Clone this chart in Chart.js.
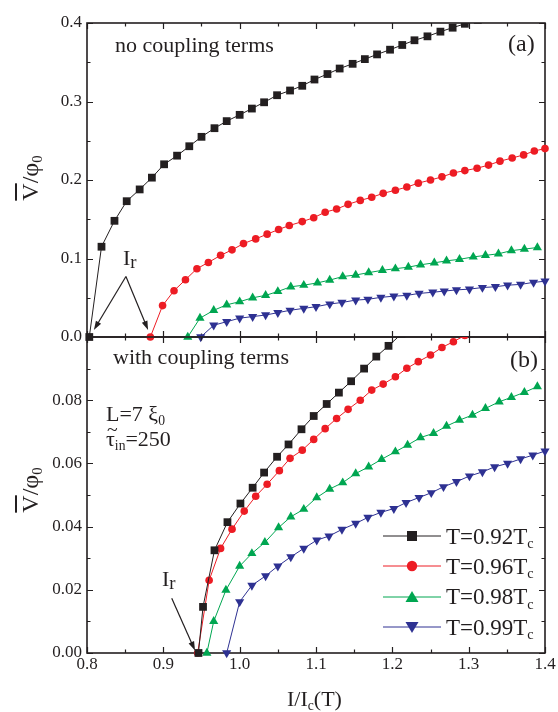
<!DOCTYPE html>
<html>
<head>
<meta charset="utf-8">
<script src="https://cdn.jsdelivr.net/npm/chart.js@4.4.0/dist/chart.umd.min.js"></script>
<style>
body { margin: 0; background: #fff; }
#wrap { position: relative; width: 558px; height: 712px; overflow: hidden; font-family: "Liberation Serif", "Times New Roman", serif; color: #231f20; }
#wrap canvas { position: absolute; left: 0; top: 0; }
.t { position: absolute; white-space: nowrap; line-height: 1; }
.sub { position: relative; top: 0.3em; font-size: 0.62em; line-height: 0; }
.tl { position: relative; display: inline-block; }
.tl .tilde { position: absolute; left: 1px; top: -0.42em; font-size: 0.9em; }
.ytitle { position: absolute; white-space: nowrap; line-height: 1; font-size: 24px; transform: translate(-50%, -50%) rotate(-90deg); }
#legend { position: absolute; left: 383px; top: 521px; }
#legend .row { height: 30.3px; display: flex; align-items: center; }
#legend .row span.lab { font-size: 23px; line-height: 1; margin-left: 5px; }
</style>
</head>
<body>
<div id="wrap">
  <canvas id="cA" width="558" height="712"></canvas>
  <canvas id="cB" width="558" height="712"></canvas>

  <div class="t" style="left:115px;top:34px;font-size:22px;">no coupling terms</div>
  <div class="t" style="left:508px;top:31px;font-size:24px;">(a)</div>
  <div class="t" style="left:113px;top:346px;font-size:22px;">with coupling terms</div>
  <div class="t" style="left:510px;top:347px;font-size:24px;">(b)</div>
  <div class="t" style="left:106px;top:403px;font-size:22px;">L=7 ξ<span class="sub">0</span></div>
  <div class="t" style="left:106px;top:428px;font-size:22px;"><span class="tl">τ<span class="tilde">~</span></span><span class="sub">in</span>=250</div>
  <div class="t" style="left:123px;top:247px;font-size:22px;">I<span class="sub" style="font-size:0.85em;top:0.15em">r</span></div>
  <div class="t" style="left:162px;top:568px;font-size:22px;">I<span class="sub" style="font-size:0.85em;top:0.15em">r</span></div>
  <div class="ytitle" style="left:30px;top:178px;"><span style="text-decoration:overline">V</span>/φ<span class="sub">0</span></div>
  <div class="ytitle" style="left:30px;top:490px;"><span style="text-decoration:overline">V</span>/φ<span class="sub">0</span></div>
  <div class="t" style="left:287px;top:688px;font-size:22px;">I/I<span class="sub">c</span>(T)</div>
  <div id="legend"></div>
</div>

<script>
// series labels (temperature / Tc)
var temps = ['0.92', '0.96', '0.98', '0.99'];
var colors = ['#231f20', '#ed1c24', '#00a651', '#2e3192'];

// shared x axis ticks
var xTicks = [0.8, 0.9, 1.0, 1.1, 1.2, 1.3, 1.4];
var xLabels = ['0.8', '0.9', '1.0', '1.1', '1.2', '1.3', '1.4'];

// panel (a) - no coupling terms
var yTicksA = [0, 0.1, 0.2, 0.3, 0.4];
var yLabelsA = ['0.0', '0.1', '0.2', '0.3', '0.4'];

var xA92 = [0.803, 0.819, 0.836, 0.852, 0.869, 0.885, 0.901, 0.918, 0.934, 0.950, 0.967, 0.983, 1.000, 1.016, 1.032, 1.049,
  1.066, 1.082, 1.098, 1.115, 1.131, 1.148, 1.164, 1.180, 1.197, 1.213, 1.229, 1.246, 1.263, 1.279, 1.295, 1.312];
var yA92 = [0, 0.115, 0.148, 0.173, 0.188, 0.203, 0.220, 0.231, 0.243, 0.255, 0.266, 0.275, 0.283, 0.291, 0.299, 0.308,
  0.314, 0.320, 0.328, 0.335, 0.342, 0.348, 0.354, 0.360, 0.366, 0.372, 0.378, 0.383, 0.389, 0.394, 0.399, 0.404];

var xA96 = [0.883, 0.899, 0.914, 0.929, 0.944, 0.959, 0.975, 0.990, 1.005, 1.021, 1.036, 1.051, 1.065, 1.082, 1.097, 1.112, 1.127, 1.142,
  1.158, 1.173, 1.188, 1.204, 1.219, 1.234, 1.250, 1.265, 1.280, 1.295, 1.311, 1.326, 1.341, 1.357, 1.372, 1.386, 1.400];
var yA96 = [0, 0.040, 0.059, 0.073, 0.087, 0.095, 0.104, 0.111, 0.119, 0.125, 0.131, 0.137, 0.142, 0.147, 0.152, 0.159, 0.163, 0.169,
  0.174, 0.178, 0.183, 0.187, 0.191, 0.196, 0.200, 0.204, 0.209, 0.212, 0.215, 0.219, 0.224, 0.228, 0.232, 0.237, 0.240];

var xA98 = [0.932, 0.948, 0.966, 0.983, 1.000, 1.017, 1.034, 1.050, 1.067, 1.084, 1.102, 1.118, 1.135, 1.152, 1.169, 1.187, 1.204, 1.221,
  1.237, 1.255, 1.271, 1.288, 1.306, 1.322, 1.339, 1.356, 1.373, 1.390];
var yA98 = [0, 0.024, 0.034, 0.041, 0.045, 0.050, 0.053, 0.058, 0.064, 0.066, 0.069, 0.0725, 0.077, 0.079, 0.082, 0.085, 0.087, 0.089,
  0.092, 0.0945, 0.097, 0.099, 0.102, 0.104, 0.106, 0.110, 0.112, 0.114];

var xA99 = [0.949, 0.966, 0.983, 1.000, 1.017, 1.034, 1.050, 1.066, 1.084, 1.100, 1.118, 1.134, 1.152, 1.168, 1.185, 1.202, 1.219, 1.235,
  1.253, 1.268, 1.284, 1.301, 1.318, 1.335, 1.351, 1.368, 1.385, 1.400];
var yA99 = [0, 0.015, 0.0195, 0.024, 0.026, 0.028, 0.031, 0.034, 0.0365, 0.0386, 0.042, 0.044, 0.047, 0.048, 0.0505, 0.052, 0.053, 0.0555,
  0.057, 0.0585, 0.060, 0.061, 0.063, 0.064, 0.066, 0.067, 0.0696, 0.071];

// panel (b) - with coupling terms
var yTicksB = [0, 0.02, 0.04, 0.06, 0.08, 0.10];
var yLabelsB = ['0.00', '0.02', '0.04', '0.06', '0.08', ''];

var xB92 = [0.946, 0.952, 0.967, 0.984, 1.001, 1.017, 1.032, 1.049, 1.064, 1.081, 1.097, 1.114, 1.130, 1.146, 1.163, 1.179, 1.195, 1.212];
var yB92 = [0, 0.0146, 0.0325, 0.0414, 0.0473, 0.0523, 0.0571, 0.0621, 0.066, 0.0708, 0.075, 0.0788, 0.0824, 0.086, 0.090, 0.0938, 0.0972, 0.101];

var xB96 = [0.945, 0.960, 0.975, 0.990, 1.006, 1.021, 1.036, 1.052, 1.066, 1.082, 1.097, 1.112, 1.127, 1.142, 1.158, 1.173, 1.188, 1.204,
  1.219, 1.234, 1.250, 1.265, 1.280, 1.295];
var yB96 = [0, 0.0230, 0.0331, 0.0392, 0.0449, 0.0496, 0.0534, 0.0577, 0.0616, 0.0642, 0.0676, 0.071, 0.0742, 0.0771, 0.080, 0.0832, 0.0851, 0.0874,
  0.0901, 0.0922, 0.0943, 0.0967, 0.0985, 0.1005];

var xB98 = [0.957, 0.966, 0.982, 1.000, 1.016, 1.033, 1.051, 1.067, 1.084, 1.101, 1.118, 1.135, 1.152, 1.169, 1.186, 1.204, 1.220, 1.237,
  1.254, 1.271, 1.288, 1.305, 1.322, 1.340, 1.356, 1.373, 1.390];
var yB98 = [0, 0.0100, 0.0199, 0.0275, 0.0315, 0.0350, 0.0397, 0.0431, 0.0455, 0.0492, 0.0519, 0.0539, 0.0568, 0.0589, 0.0613, 0.0637, 0.0658, 0.0682,
  0.0695, 0.0718, 0.0737, 0.0753, 0.0774, 0.0795, 0.0809, 0.0825, 0.0843];

var xB99 = [0.983, 1.000, 1.016, 1.034, 1.050, 1.067, 1.084, 1.101, 1.117, 1.134, 1.152, 1.168, 1.185, 1.202, 1.218, 1.235, 1.251, 1.267,
  1.284, 1.301, 1.318, 1.334, 1.351, 1.368, 1.384, 1.400];
var yB99 = [0, 0.0162, 0.0214, 0.0244, 0.0275, 0.0304, 0.0331, 0.0357, 0.0370, 0.0391, 0.0410, 0.0429, 0.0445, 0.0457, 0.0476, 0.0492, 0.0507, 0.0526,
  0.0542, 0.0560, 0.0573, 0.0589, 0.0600, 0.0614, 0.0626, 0.0639];

// I_r arrows, in data coordinates [from, to]
var arrowsA = [[[0.851, 0.077], [0.809, 0.009]], [[0.851, 0.077], [0.880, 0.009]]];
var arrowsB = [[[0.911, 0.0173], [0.9415, 0.0008]]];

var ink = '#231f20';
var markers = [
  { style: 'rect', radius: 5.5, rot: 0 },
  { style: 'circle', radius: 3.8, rot: 0 },
  { style: 'triangle', radius: 5.3, rot: 0 },
  { style: 'triangle', radius: 5.3, rot: 180 }
];

function pts(xs, ys) {
  var out = [];
  for (var i = 0; i < xs.length; i++) out.push({ x: xs[i], y: ys[i] });
  return out;
}

function makeSets(list) {
  return list.map(function(d, i) {
    return {
      label: 'T=' + temps[i] + 'Tc',
      data: pts(d[0], d[1]),
      showLine: true,
      borderColor: colors[i],
      backgroundColor: colors[i],
      borderWidth: 1,
      pointStyle: markers[i].style,
      pointRadius: markers[i].radius,
      pointRotation: markers[i].rot,
      pointBorderWidth: 0,
      pointHoverRadius: markers[i].radius,
      clip: { left: 8, right: 8, top: 0, bottom: 8 }
    };
  });
}

// frame with inward ticks on all four sides
var framePlugin = {
  id: 'frame',
  beforeDatasetsDraw: function(chart) {
    var ctx = chart.ctx, a = chart.chartArea, x = chart.scales.x, y = chart.scales.y;
    function split(scale) {
      var major = scale.ticks.map(function(t) { return t.value; });
      var minor = [];
      for (var i = 1; i < major.length; i++) minor.push((major[i - 1] + major[i]) / 2);
      return { major: major, minor: minor };
    }
    var tx = split(x), ty = split(y);
    ctx.save();
    ctx.strokeStyle = ink;
    ctx.lineWidth = 1.2;
    ctx.beginPath();
    function xt(vals, len) {
      vals.forEach(function(v) {
        var p = Math.round(x.getPixelForValue(v)) + 0.5;
        ctx.moveTo(p, a.bottom); ctx.lineTo(p, a.bottom - len);
        ctx.moveTo(p, a.top); ctx.lineTo(p, a.top + len);
      });
    }
    function yt(vals, len) {
      vals.forEach(function(v) {
        var p = Math.round(y.getPixelForValue(v)) + 0.5;
        ctx.moveTo(a.left, p); ctx.lineTo(a.left + len, p);
        ctx.moveTo(a.right, p); ctx.lineTo(a.right - len, p);
      });
    }
    xt(tx.major, 6); xt(tx.minor, 3.5);
    yt(ty.major, 6); yt(ty.minor, 3.5);
    ctx.stroke();
    ctx.lineWidth = 1.6;
    ctx.strokeRect(a.left, a.top, a.right - a.left, a.bottom - a.top);
    ctx.restore();
  },
  afterDatasetsDraw: function(chart, args, opts) {
    var ctx = chart.ctx, x = chart.scales.x, y = chart.scales.y;
    (opts.arrows || []).forEach(function(ar) {
      var x0 = x.getPixelForValue(ar[0][0]), y0 = y.getPixelForValue(ar[0][1]);
      var x1 = x.getPixelForValue(ar[1][0]), y1 = y.getPixelForValue(ar[1][1]);
      var ang = Math.atan2(y1 - y0, x1 - x0), L = 9, W = 3;
      ctx.save();
      ctx.strokeStyle = ink; ctx.fillStyle = ink; ctx.lineWidth = 1.2;
      ctx.beginPath();
      ctx.moveTo(x0, y0);
      ctx.lineTo(x1 - Math.cos(ang) * L * 0.8, y1 - Math.sin(ang) * L * 0.8);
      ctx.stroke();
      ctx.beginPath();
      ctx.moveTo(x1, y1);
      ctx.lineTo(x1 - Math.cos(ang) * L - Math.sin(ang) * W, y1 - Math.sin(ang) * L + Math.cos(ang) * W);
      ctx.lineTo(x1 - Math.cos(ang) * L + Math.sin(ang) * W, y1 - Math.sin(ang) * L - Math.cos(ang) * W);
      ctx.closePath();
      ctx.fill();
      ctx.restore();
    });
  }
};

var tickFont = { family: '"Liberation Serif", "Times New Roman", serif', size: 17 };

function fixTicks(vals) {
  return function(s) { s.ticks = vals.map(function(v) { return { value: v }; }); };
}

function panel(id, sets, yMin, yMax, yTicks, yLabels, showX, pad, arrows) {
  return new Chart(document.getElementById(id), {
    type: 'scatter',
    data: { datasets: makeSets(sets) },
    plugins: [framePlugin],
    options: {
      responsive: false,
      animation: false,
      events: [],
      layout: { padding: pad },
      plugins: {
        legend: { display: false },
        tooltip: { enabled: false },
        frame: { arrows: arrows }
      },
      scales: {
        x: {
          type: 'linear', min: 0.8, max: 1.4,
          afterBuildTicks: fixTicks(xTicks),
          afterFit: function(s) { s.height = showX ? 30 : 0; },
          grid: { display: false, drawTicks: false },
          border: { display: false },
          ticks: {
            display: showX, autoSkip: false, maxRotation: 0, padding: 1,
            color: ink, font: tickFont,
            callback: function(v, i) { return xLabels[i]; }
          }
        },
        y: {
          type: 'linear', min: yMin, max: yMax,
          afterBuildTicks: fixTicks(yTicks),
          afterFit: function(s) { s.width = 87; },
          grid: { display: false, drawTicks: false },
          border: { display: false },
          ticks: {
            autoSkip: false, padding: 5, color: ink, font: tickFont,
            callback: function(v, i) { return yLabels[i]; }
          }
        }
      }
    }
  });
}

panel('cA', [[xA92, yA92], [xA96, yA96], [xA98, yA98], [xA99, yA99]], 0, 0.4, yTicksA, yLabelsA, false,
  { top: 23, bottom: 375, left: 0, right: 13 }, arrowsA);
panel('cB', [[xB92, yB92], [xB96, yB96], [xB98, yB98], [xB99, yB99]], 0, 0.1, yTicksB, yLabelsB, true,
  { top: 337, bottom: 29, left: 0, right: 13 }, arrowsB);

// legend (html so the subscript c stays real text)
var lg = document.getElementById('legend');
var shapes = [
  '<rect x="24" y="5" width="10" height="10"/>',
  '<circle cx="29" cy="10" r="5.2"/>',
  '<polygon points="29,4 35.5,15 22.5,15"/>',
  '<polygon points="29,16 35.5,5 22.5,5"/>'
];
temps.forEach(function(t, i) {
  var row = document.createElement('div');
  row.className = 'row';
  row.innerHTML = '<svg width="58" height="20"><line x1="0" y1="10" x2="58" y2="10" stroke="' + colors[i] + '" stroke-width="1"/>' +
    '<g fill="' + colors[i] + '">' + shapes[i] + '</g></svg>' +
    '<span class="lab">T=' + t + 'T<span class="sub">c</span></span>';
  lg.appendChild(row);
});
</script>
</body>
</html>
